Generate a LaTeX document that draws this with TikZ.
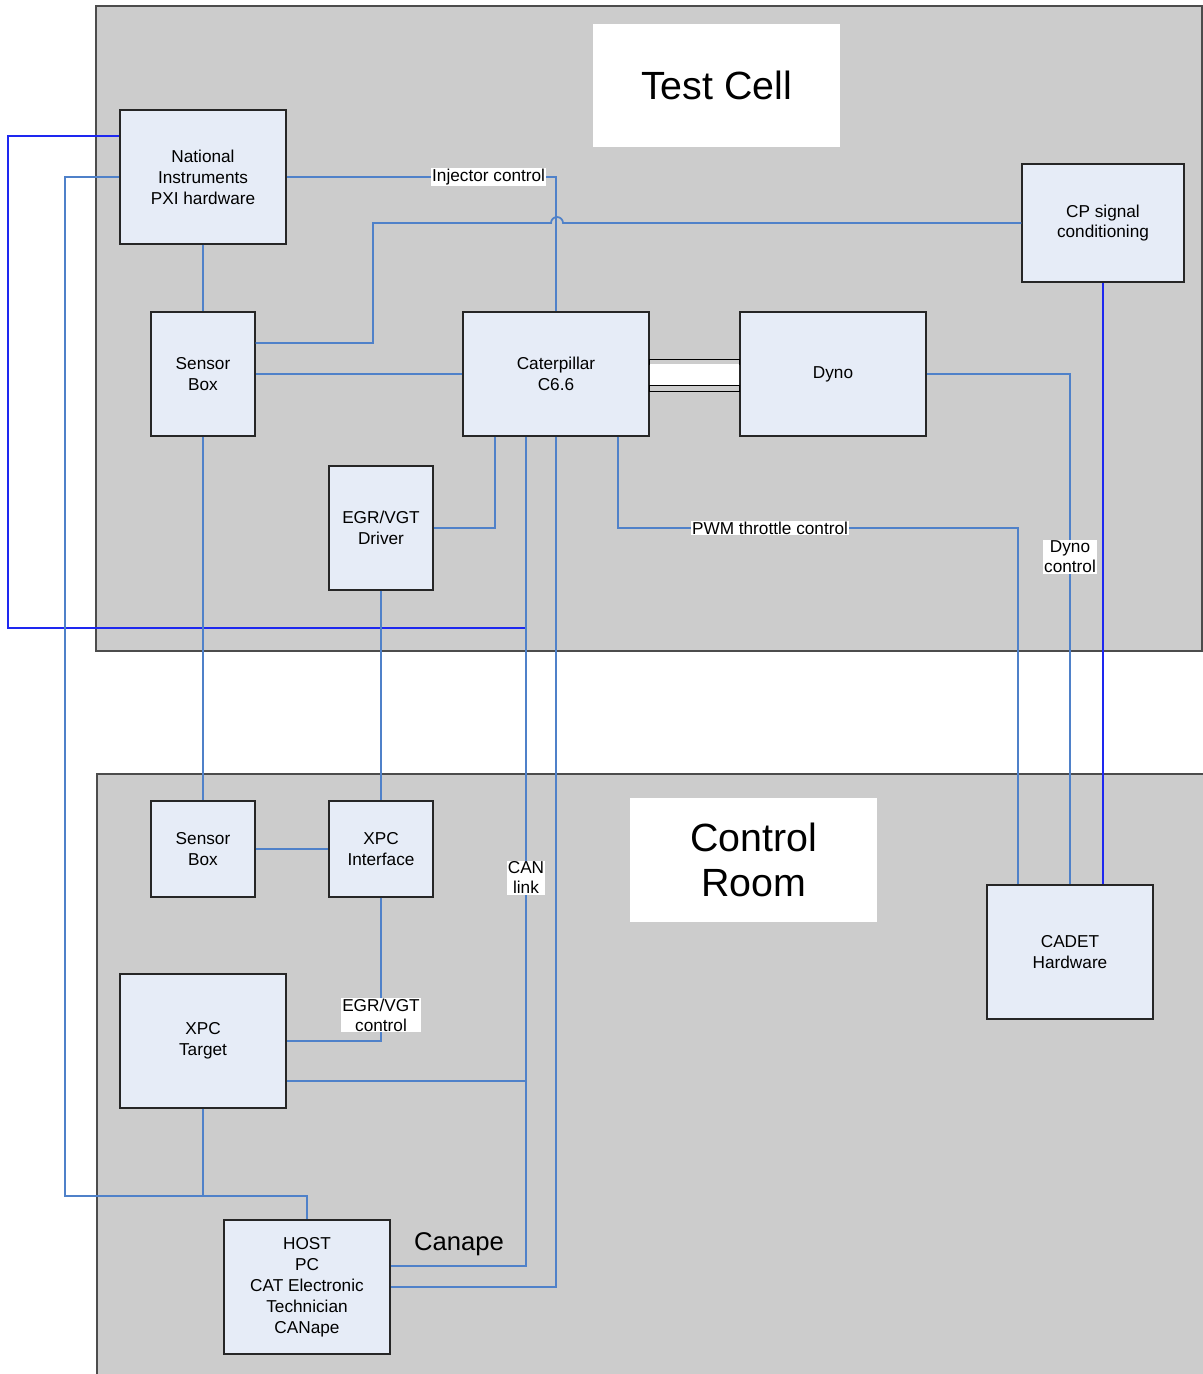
\documentclass[tikz,border=0pt]{standalone}
\usepackage{fontspec}
\setmainfont{Liberation Sans}
\usetikzlibrary{calc,positioning}

\definecolor{panelgray}{RGB}{204,204,204}
\definecolor{boxfill}{RGB}{230,236,247}
\definecolor{wireblue}{RGB}{79,129,201}
\definecolor{brightblue}{RGB}{30,40,240}

\begin{document}
\begin{tikzpicture}[x=0.02cm,y=-0.02cm]
   \tikzset{main node/.style={rectangle, draw=black!85, fill=boxfill,
   		line width=0.6pt, text centered, align=center,
   		font=\fontsize{9.8}{11.9}\selectfont}, }
   \tikzset{size/.style 2 args={minimum width=#1*0.02cm,
   		minimum height=#2*0.02cm, inner sep=0pt}, }
   \tikzset{title node/.style={rectangle, fill=white, align=center,
   		font=\fontsize{22.4}{26}\selectfont, inner sep=0pt}, }
   \tikzset{label node/.style={fill=white, inner sep=0.6pt, align=center,
   		font=\fontsize{9.8}{11.3}\selectfont}, }
   \tikzset{linea/.style={draw=wireblue, line width=1pt},}
   \tikzset{lineb/.style={draw=brightblue, line width=0.6pt},}
   \tikzset{panel/.style={fill=panelgray, draw=black!70, line width=0.7pt},}

\useasboundingbox (0,0) rectangle (1203,1374);
% rooms
\path[panel] (96,6) rectangle (1202,651);
\path[panel] (97,774) rectangle (1215,1390);
\node[title node, size={247}{123}] (tc) at (716.5,85.5) {Test Cell};
\node[title node, size={247}{124}] (cr) at (753.5,860) {Control\\Room};

% test cell
\node[main node, size={166}{134}] (ni) at (203,177) {National\\Instruments\\PXI hardware};
\node[main node, size={104}{124}] (sb1) at (203,374) {Sensor\\Box};
\node[main node, size={186}{124}] (cat) at (556,374) {Caterpillar\\C6.6};
\node[main node, size={186}{124}] (dyno) at (833,374) {Dyno};
\node[main node, size={162}{118}] (cp) at (1103,223) {CP signal\\conditioning};
\node[main node, size={104}{124}] (egr) at (381,528) {EGR/VGT\\Driver};

% shaft
\draw[fill=panelgray, line width=0.5pt] (cat.east |- 0,359) rectangle (dyno.west |- 0,364);
\fill[white] (cat.east |- 0,364) rectangle (dyno.west |- 0,385);
\draw[fill=panelgray, line width=0.5pt] (cat.east |- 0,385) rectangle (dyno.west |- 0,391);

% control room
\node[main node, size={104}{96}] (sb2) at (203,849) {Sensor\\Box};
\node[main node, size={104}{96}] (xpci) at (381,849) {XPC\\Interface};
\node[main node, size={166}{134}] (xpct) at (203,1041) {XPC\\Target};
\node[main node, size={166}{134}] (host) at (307,1287) {HOST\\PC\\CAT Electronic\\Technician\\CANape};
\node[main node, size={166}{134}] (cadet) at (1070,952) {CADET\\Hardware};
\node[font=\fontsize{14.6}{17}\selectfont] (canape) at (459,1244) {Canape};

\coordinate (can1) at (526,628);
\coordinate (can2) at (526,1081);
\coordinate (pwm) at (1018,528);

% wiring
\draw[lineb] ($(ni.west)+(0,-41)$) -| (8,628) -- (can1);
\draw[linea] (ni.west) -| (65,1196) -| (host.north);
\draw[linea] (xpct.south) -- (203,1196);
\draw[linea] (ni.east) -| node[label node, pos=0.375] {Injector control} (cat.north);
\draw[linea] ($(sb1.east)+(0,-31)$) -| (373,223) -- (551,223)
   arc[start angle=180, end angle=360, radius=6] -- (cp.west);
\draw[linea] (ni.south) -- (sb1.north);
\draw[linea] (sb1.east) -- (cat.west);
\draw[linea] (sb1.south) -- (sb2.north);
\draw[linea] ($(cat.south)+(-61,0)$) |- (egr.east);
\draw[linea] ($(cat.south)+(-30,0)$) |- node[label node, pos=0.266] {CAN\\link} ($(host.east)+(0,-21)$);
\draw[linea] (cat.south) |- (host.east);
\draw[linea] ($(cat.south)+(62,0)$) |- node[label node, pos=0.69] {PWM throttle control} (pwm) -- (pwm |- cadet.north);
\draw[linea] (dyno.east) -| node[label node, pos=0.679] {Dyno\\control} (cadet.north);
\draw[lineb] (cp.south) -- (cp.south |- cadet.north);
\draw[linea] (egr.south) -- (xpci.north);
\draw[linea] (sb2.east) -- (xpci.west);
\draw[linea] (xpci.south) |- node[label node, pos=0.41] {EGR/VGT\\control} (xpct.east);
\draw[linea] ($(xpct.east)+(0,40)$) -- (can2);
%
\end{tikzpicture}
\end{document}
